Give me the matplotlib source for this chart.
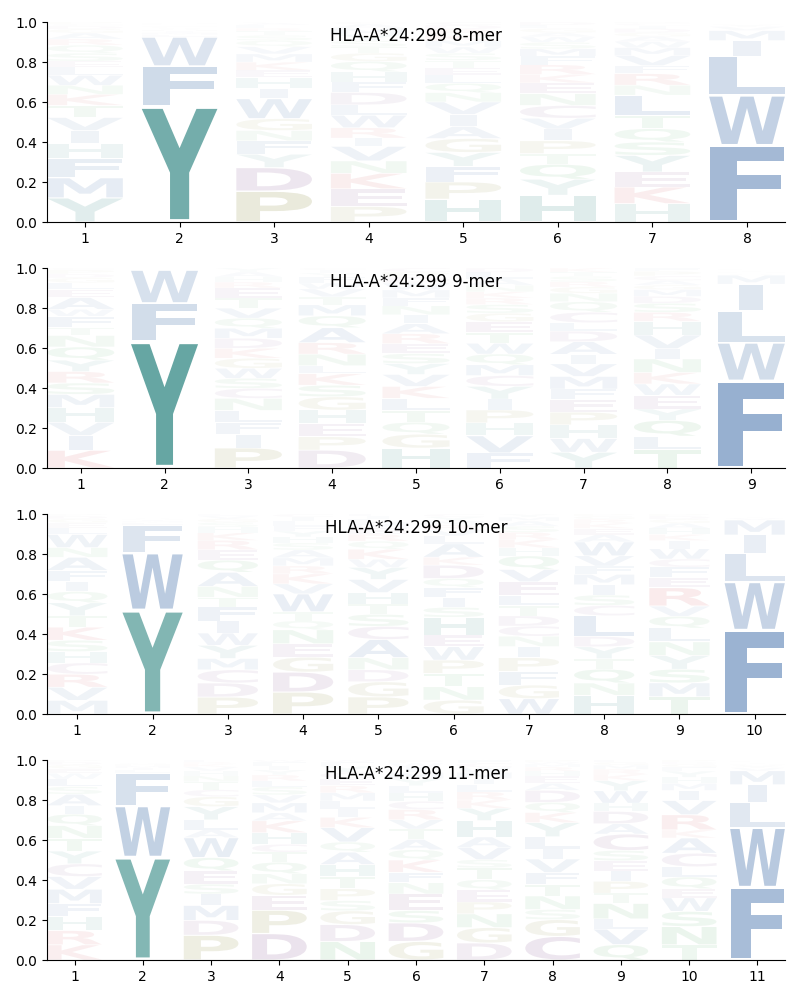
import numpy as np
import matplotlib
matplotlib.use("Agg")
import matplotlib.pyplot as plt
from matplotlib.textpath import TextPath
from matplotlib.patches import PathPatch
from matplotlib.font_manager import FontProperties
from matplotlib.transforms import Affine2D

allele = "HLA-A*24:299"

# ---- data: letters listed bottom -> top, heights in percent ----
letters_8 = ["YMFHIVTKNWLESQRAGDCP", "YFWLMIHVACTQSRKNEDGP", "PDYFNGWIHEKMVQSTRLAC",
             "PEKNVIRWLDFHQGTSYMAC", "HPFYGAIVNQLETSWMKRDC", "HYQTPIVCNEKRFMSWAGLD",
             "HKEYSQTLNRFVMWAGDICP", "FWLIMVYAHKRTCQSNEGDP"]
heights_8 = [
    [12, 10, 9.5, 7.5, 6.5, 6.5, 6, 5.5, 4.5, 5, 4, 3, 4, 4, 3, 3, 2, 1.5, 1, 1],
    [58, 20, 14.5, 1.2, 1.0, 0.8, 0.6, 0.5, 0.4, 0.4, 0.4, 0.3, 0.3, 0.3, 0.3, 0.3, 0.2, 0.2, 0.2, 0.1],
    [15, 11.5, 6.5, 6.5, 5, 5.8, 9.7, 5, 5.3, 3.5, 4, 4, 3.5, 3, 2.5, 2, 1.5, 1.5, 1, 0.5],
    [7.5, 8.5, 7.5, 6, 7, 4, 5, 6, 5, 6, 5, 5, 5, 4, 3, 3, 3, 3, 2, 1],
    [11, 8.3, 7.5, 6.7, 6.7, 5.8, 5.8, 6, 4.5, 4.5, 4, 3.5, 3.5, 3.5, 3, 3, 3, 2.5, 2, 1.5],
    [12.5, 7.5, 7, 5, 6, 5.5, 5, 6, 5.5, 5, 4, 4.5, 4, 3.5, 3, 2.5, 2, 2, 1.5, 1.5],
    [9.2, 8.3, 7.5, 8.3, 6.7, 6.7, 6.7, 10, 5, 5.8, 4, 5, 4, 3, 2.5, 2, 2, 1.5, 1, 0.8],
    [38.5, 25, 19.5, 8, 5, 2, 1, 0.1, 0.1, 0.1, 0.1, 0.1, 0.1, 0.1, 0.1, 0.1, 0.1, 0.1, 0.1, 0.1],
]

letters_9 = ["KIVHMSRYQNTFWAELGDPC", "YFWLMIHVACTQSRKNEDGP", "PIFLNCSWGKDMQVTERHAY",
             "DPEHGSKLNRAQMTVWFYIC", "HGQTLKVYSERAINFMWDPC", "FVHPIYCMQWTEGSRKNALD",
             "YWHPEFMVIADLCQNGRSTK", "TLQYEWKNIVHRSDMGACPF", "FWLIMVYAHKRTCQSNEGDP"]
heights_9 = [
    [9, 7.5, 6.7, 7.5, 6.7, 5.8, 5.8, 5.8, 6.7, 5.8, 4, 5.8, 3.5, 6, 4, 3.5, 2.5, 2, 2, 1],
    [63.5, 19, 16.5, 0.15, 0.1, 0.1, 0.08, 0.07, 0.06, 0.06, 0.05, 0.05, 0.05, 0.04, 0.04, 0.04, 0.03, 0.03, 0.03, 0.02],
    [10, 6.7, 6, 6, 6, 5, 5, 5, 5, 5, 5, 5, 5, 5, 5, 5, 3, 2.5, 2.5, 2],
    [9, 6.7, 6.7, 6.7, 6.7, 5.8, 5.8, 4, 5.8, 5.8, 7.5, 6, 5.5, 4, 4, 3, 3, 2, 1.5, 1],
    [10, 7, 6, 6, 6, 6, 6, 5.5, 5, 5, 5, 5, 4.5, 4.5, 4, 4, 3.5, 3, 2.5, 2],
    [7, 8, 6, 6, 5, 6, 5, 5, 5, 5, 5, 5, 4, 4, 3, 3, 3, 3, 3, 2],
    [7.5, 6.5, 6.5, 6, 6, 5, 6, 6, 4.5, 6, 5, 4, 5, 5, 4, 3, 2.5, 2.5, 2, 2],
    [8, 6, 7, 5, 6, 5, 5, 6, 4.5, 6, 6, 4, 4, 3, 3, 2, 2, 2, 2, 1.5],
    [44, 19, 16, 13.5, 4.5, 0.5, 0.4, 0.3, 0.2, 0.2, 0.2, 0.2, 0.2, 0.2, 0.2, 0.2, 0.2, 0.2, 0.2, 0.2],
]

letters_10 = ["MVRCHSKTYQIFANWLEGDP", "YWFLMIHVACTQSRKNEDGP", "PDCMYWIFTNAQERKHSGVL",
              "PDGENQTWVKRMASHYFLIC", "PGDNACSTHVYWKQREMLIF", "GNTPWEHSIFQDKALVRMYC",
              "WGFPINCDTLEVQHKRSAMY", "HNQTYDLCSIMFVWAEKRGP", "TMSYNLQVREFCWIKHAGDP",
              "FWLIMVYAHKRTCQSNEGDP"]
heights_10 = [
    [7, 6.7, 6.7, 5.8, 5.8, 5.8, 6.7, 5.8, 6.7, 5.8, 5, 5.8, 6.7, 5, 6.7, 3.5, 2.5, 2, 1.5, 1],
    [52, 28.5, 14, 1.2, 0.8, 0.6, 0.5, 0.4, 0.2, 0.2, 0.2, 0.2, 0.2, 0.15, 0.15, 0.15, 0.15, 0.15, 0.15, 0.1],
    [9, 7.5, 7, 6, 7, 6.5, 6.5, 7.5, 5, 5.8, 7.5, 6.5, 5.5, 5, 4, 3, 2.5, 2, 1.5, 1],
    [11, 10, 7.5, 6.7, 7, 4.5, 4.5, 9, 5, 5, 4, 4, 4, 3.5, 3, 3, 2.5, 2.5, 2, 1.5],
    [8.5, 7.5, 6, 6, 9, 6.5, 6, 5, 5.8, 6.5, 6, 4, 5, 4, 3.5, 3, 2.5, 2, 1.5, 1],
    [7, 6.7, 6.7, 6.7, 6.7, 5.8, 9, 5, 5, 5, 4.5, 6.7, 4, 6.7, 4, 3, 2.5, 2, 2, 1.5],
    [7.5, 6.7, 6.7, 6.7, 5.5, 5, 5, 5, 5, 5, 6.7, 6, 6.7, 4, 4, 3.5, 3, 2.5, 2, 1.5],
    [9, 6, 6.7, 5, 5.8, 5, 10, 5, 5, 5, 5, 4, 5, 6.7, 3.5, 3, 2.5, 2, 1.5, 1],
    [8.5, 6.7, 6.7, 6.7, 6.7, 6.7, 5.8, 5, 9, 5, 5, 4, 5, 4, 3, 3, 2.5, 2, 1.5, 1],
    [42, 24, 14.5, 9, 7.5, 1, 0.5, 0.3, 0.1, 0.1, 0.1, 0.1, 0.1, 0.1, 0.1, 0.1, 0.1, 0.1, 0.1, 0.1],
]

letters_11 = ["KRHFMVCYTNQIASLWEGDP", "YWFLIMHVACTQSRKNEDGP", "PDMISEQWALYGCTNHVKRF",
              "DPEGNQTCHKAMVSLRYIFW", "NDGSPTHAQVKILMRECYFW", "GDSENFKQATVRCHLYMIWP",
              "DGNPEQTSVAHYKRLIMWCF", "CGSNTFVILYKQDAEHRMWP", "QVLNTPIESCADHWYKRMGF",
              "TNSWEQLCAKRVIMHYFGDP", "FWLIMVYAHKRTCQSNEGDP"]
heights_11 = [
    [8, 7.5, 7.5, 6.7, 7.5, 6.7, 6.7, 6.7, 6.7, 6.7, 6, 4.5, 6, 4, 4, 3, 2.5, 2, 1.5, 1],
    [51.5, 25.5, 16.5, 1.5, 1, 1, 0.8, 0.6, 0.2, 0.2, 0.15, 0.15, 0.15, 0.15, 0.1, 0.1, 0.1, 0.1, 0.1, 0.1],
    [12.5, 7.5, 7.5, 5.8, 5, 6.7, 6.7, 10, 4, 5, 6.7, 5, 3.5, 4, 3, 2.5, 2, 1.5, 1, 1],
    [13.3, 11.7, 7.5, 5.8, 5, 5.8, 5, 4, 5.8, 6, 4, 5, 4, 4, 3, 3, 2.5, 2, 2, 1],
    [9, 8.3, 6.7, 5, 5.8, 5.8, 6, 6, 5, 7, 5, 4, 4, 4, 3.5, 3.5, 3, 3, 2, 1],
    [9, 9, 6, 8, 5.5, 5, 6, 5, 5, 5, 4.5, 5, 4, 4, 3.5, 3.5, 3, 2.5, 2, 1.5],
    [8.3, 7.5, 6.7, 5.8, 5.8, 5, 5.8, 4, 6, 5, 8, 6, 4, 4, 3.5, 3, 3, 2.5, 2, 1.5],
    [11.7, 8.3, 5, 6.7, 5.8, 5.8, 6.7, 5, 6, 7, 5, 5, 6, 3.5, 3.5, 2.5, 2, 1.5, 1, 1],
    [7.5, 7.5, 5, 7.5, 5, 5.8, 5, 5, 5, 8, 5, 6, 4, 6, 5, 3, 2.5, 2, 1.5, 1],
    [7.5, 9, 7.5, 6.7, 4.5, 5.8, 5, 6.7, 7.5, 4, 7.5, 7, 5, 3.5, 3, 3, 2, 1.5, 1, 1],
    [36.5, 30, 12.5, 9, 7, 1.5, 1, 0.5, 0.2, 0.2, 0.2, 0.2, 0.2, 0.2, 0.2, 0.2, 0.2, 0.2, 0.2, 0.2],
]

panels = [("8-mer", letters_8, heights_8), ("9-mer", letters_9, heights_9),
          ("10-mer", letters_10, heights_10), ("11-mer", letters_11, heights_11)]

# ---- colours by residue group ----
group_colors = {
    "FWLIMVA": "#124b94",
    "YH": "#0f736e",
    "PG": "#78781e",
    "DEC": "#6e3278",
    "KR": "#c82832",
    "NQST": "#28963c",
}
color_of = {aa: col for grp, col in group_colors.items() for aa in grp}

fp = FontProperties(family="DejaVu Sans", weight="bold")
ref_bb = TextPath((0, 0), "E", size=1, prop=fp).get_extents()
LETTER_W = 0.8
VPAD = 0.05


def draw_glyph(ax, ch, x, floor, ceil, color, alpha):
    path = TextPath((0, 0), ch, size=1, prop=fp)
    bb = path.get_extents()
    h = ceil - floor
    y0 = floor + VPAD * h / 2
    gh = h * (1 - VPAD)
    hst = min(LETTER_W / bb.width, LETTER_W / ref_bb.width)
    gw = hst * bb.width
    shift = (LETTER_W - gw) / 2
    vst = gh / bb.height
    tr = (Affine2D().translate(-bb.xmin, -bb.ymin).scale(hst, vst)
          .translate(x - LETTER_W / 2 + shift, y0))
    ax.add_patch(PathPatch(tr.transform_path(path), facecolor=color,
                           edgecolor="none", linewidth=0, alpha=alpha))


fig, axes = plt.subplots(4, 1, figsize=(8, 10), dpi=100)
fig.subplots_adjust(left=0.059, right=0.981, top=0.978, bottom=0.04, hspace=0.23)

for ax, (name, lets, hts) in zip(axes, panels):
    n = len(lets)
    for i, (ls, hs) in enumerate(zip(lets, hts)):
        hs = np.asarray(hs, dtype=float)
        fr = hs / hs.sum()
        floor = 0.0
        for ch, f in zip(ls, fr):
            draw_glyph(ax, ch, i + 1, floor, floor + f, color_of[ch], min(1.0, f))
            floor += f
    ax.set_xlim(0.6, n + 0.4)
    ax.set_ylim(0, 1)
    ax.set_xticks(range(1, n + 1))
    ax.set_yticks([0, 0.2, 0.4, 0.6, 0.8, 1.0])
    ax.spines["top"].set_visible(False)
    ax.spines["right"].set_visible(False)
    ax.text(0.5, 0.93, f"{allele} {name}", transform=ax.transAxes,
            ha="center", va="center", fontsize=12, zorder=5)

fig.savefig("out.png", dpi=100)
